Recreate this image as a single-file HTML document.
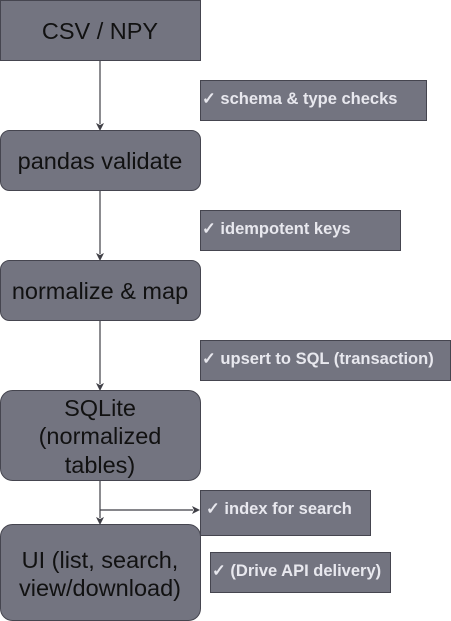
<!DOCTYPE html>
<html><head><meta charset="utf-8"><style>
html,body{margin:0;padding:0;background:#fff;width:451px;height:621px;overflow:hidden}
svg{display:block}
.n{font-family:"Liberation Sans",sans-serif;font-size:23.5px;fill:#111;text-anchor:middle}
.l{font-family:"Liberation Sans",sans-serif;font-size:16.5px;font-weight:bold;fill:#e8e8ee;letter-spacing:0px}
</style></head><body>
<svg width="451" height="621" viewBox="0 0 451 621" xmlns="http://www.w3.org/2000/svg">
<g stroke="#3f3f46" stroke-width="1.2" fill="none">
<line x1="100" y1="60" x2="100" y2="124"/>
<line x1="100" y1="190" x2="100" y2="254"/>
<line x1="100" y1="320" x2="100" y2="384"/>
<line x1="100" y1="480" x2="100" y2="518"/>
<line x1="100" y1="510" x2="193" y2="510"/>
</g>
<g fill="#3f3f46">
<polygon points="96,123 100,125 104,123 100,131"/>
<polygon points="96,253 100,255 104,253 100,261"/>
<polygon points="96,383 100,385 104,383 100,391"/>
<polygon points="96,517 100,519 104,517 100,525"/>
<polygon points="192,506 194,510 192,514 200,510"/>
</g>
<g fill="#737480" stroke="#45454f" stroke-width="1">
<rect x="0.5" y="0.5" width="200" height="60"/>
<rect x="0.5" y="130.5" width="200" height="60" rx="9"/>
<rect x="0.5" y="260.5" width="200" height="60" rx="9"/>
<rect x="0.5" y="390.5" width="200" height="90" rx="12"/>
<rect x="0.5" y="524.5" width="200" height="96" rx="12"/>
<rect x="200.5" y="80.5" width="226" height="40"/>
<rect x="200.5" y="210.5" width="200" height="40"/>
<rect x="200.5" y="340.5" width="250" height="40"/>
<rect x="200.5" y="490.5" width="170" height="45"/>
<rect x="210.5" y="552.5" width="180" height="40"/>
</g>
<text class="n" x="100" y="39">CSV / NPY</text>
<text class="n" x="100" y="169">pandas validate</text>
<text class="n" x="100" y="299">normalize &amp; map</text>
<text class="n" x="100" y="416">SQLite</text>
<text class="n" x="100" y="444">(normalized</text>
<text class="n" x="100" y="473">tables)</text>
<text class="n" x="100" y="568">UI (list, search,</text>
<text class="n" x="100" y="596">view/download)</text>
<text class="l" x="202" y="104">✓ schema &amp; type checks</text>
<text class="l" x="202" y="234">✓  idempotent keys</text>
<text class="l" x="202" y="364">✓ upsert to SQL (transaction)</text>
<text class="l" x="206" y="514">✓ index for search</text>
<text class="l" x="212" y="576">✓ (Drive API delivery)</text>
</svg>
</body></html>
